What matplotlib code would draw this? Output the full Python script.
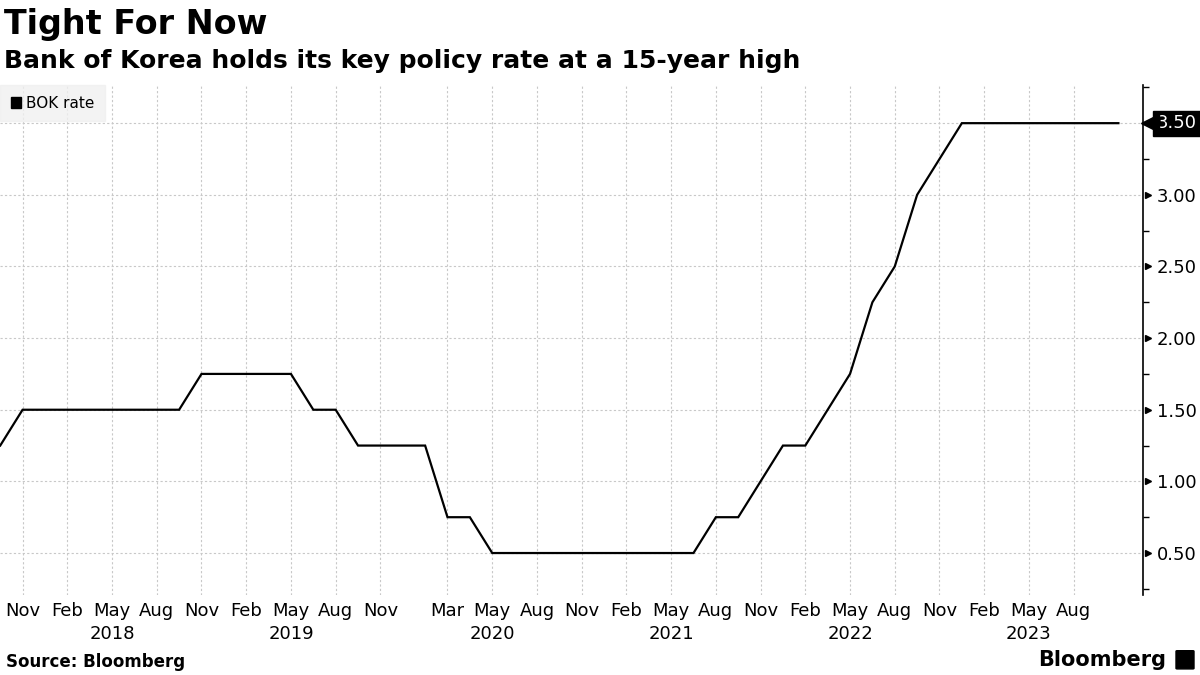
import numpy as np
import pandas as pd
import matplotlib
matplotlib.use("Agg")
import matplotlib.pyplot as plt
import matplotlib.patches as mpatches
import matplotlib.transforms as mtransforms

# BOK policy meetings and the rate decided at each one
meeting_dates = [
    "2017-10-19", "2017-11-30",
    "2018-01-18", "2018-02-27", "2018-04-12", "2018-05-24", "2018-07-12", "2018-08-31", "2018-10-18", "2018-11-30",
    "2019-01-24", "2019-02-28", "2019-04-18", "2019-05-31", "2019-07-18", "2019-08-30", "2019-10-16", "2019-11-29",
    "2020-01-17", "2020-02-27", "2020-03-16", "2020-04-09", "2020-05-28", "2020-07-16", "2020-08-27", "2020-10-15", "2020-11-26",
    "2021-01-15", "2021-02-25", "2021-04-15", "2021-05-27", "2021-07-15", "2021-08-26", "2021-10-12", "2021-11-25",
    "2022-01-14", "2022-02-24", "2022-04-14", "2022-05-26", "2022-07-13", "2022-08-25", "2022-10-12", "2022-11-24",
    "2023-01-13", "2023-02-23", "2023-04-11", "2023-05-25", "2023-07-13", "2023-08-24", "2023-10-19", "2023-11-30",
]
bok_rate = [
    1.25, 1.50,
    1.50, 1.50, 1.50, 1.50, 1.50, 1.50, 1.50, 1.75,
    1.75, 1.75, 1.75, 1.75, 1.50, 1.50, 1.25, 1.25,
    1.25, 1.25, 0.75, 0.75, 0.50, 0.50, 0.50, 0.50, 0.50,
    0.50, 0.50, 0.50, 0.50, 0.50, 0.75, 0.75, 1.00,
    1.25, 1.25, 1.50, 1.75, 2.25, 2.50, 3.00, 3.25,
    3.50, 3.50, 3.50, 3.50, 3.50, 3.50, 3.50, 3.50,
]

tick_months = ["2017-11", "2018-02", "2018-05", "2018-08", "2018-11", "2019-02", "2019-05", "2019-08", "2019-11",
               "2020-03", "2020-05", "2020-08", "2020-11", "2021-02", "2021-05", "2021-08", "2021-11",
               "2022-02", "2022-05", "2022-08", "2022-11", "2023-02", "2023-05", "2023-08"]
year_labels = ["2018", "2019", "2020", "2021", "2022", "2023"]
y_ticks = [0.5, 1.0, 1.5, 2.0, 2.5, 3.0, 3.5]

dates = pd.to_datetime(meeting_dates)
month_keys = dates.strftime("%Y-%m")
idx = np.arange(len(bok_rate))

# x axis is spaced by meeting, ticks sit on the first meeting of the month
tick_pos = [int(np.argmax(month_keys == m)) for m in tick_months]
tick_lbl = [pd.Timestamp(m + "-01").strftime("%b") for m in tick_months]
year_pos = [int(np.argmax(month_keys == y + "-05")) for y in year_labels]

plt.rcParams["font.family"] = ["DejaVu Sans"]

fig = plt.figure(figsize=(12, 6.75), dpi=100)
ax = fig.add_axes([0.0, 0.1185, 0.9525, 0.7555])

ax.plot(idx, bok_rate, color="black", linewidth=1.6, solid_joinstyle="miter", zorder=3)

ax.set_xlim(-0.01, 51.1)
ax.set_ylim(0.207, 3.766)

ax.set_xticks(tick_pos)
ax.set_xticklabels(tick_lbl, fontsize=13)
ax.set_yticks(y_ticks)
ax.set_yticklabels([f"{v:.2f}" for v in y_ticks[:-1]] + [""], fontsize=13)
ax.set_yticks(np.arange(0.25, 3.8, 0.5), minor=True)
ax.yaxis.tick_right()
ax.tick_params(axis="x", length=0, pad=5)
ax.tick_params(axis="y", which="major", length=0, pad=10)
ax.tick_params(axis="y", which="minor", length=4, width=1, color="black")

ax.grid(True, which="major", color="#c8c8c8", linestyle=(0, (2, 2)), linewidth=0.8)

for s in ["top", "left", "bottom"]:
    ax.spines[s].set_visible(False)
ax.spines["right"].set_color("black")
ax.spines["right"].set_linewidth(1.2)

# small pointers next to the labelled ticks
trans = mtransforms.blended_transform_factory(ax.transAxes, ax.transData)
ax.plot([1.004] * (len(y_ticks) - 1), y_ticks[:-1], marker=">", markersize=5, color="black",
        linestyle="none", transform=trans, clip_on=False)

# last value tag
ax.plot([1.006], [bok_rate[-1]], marker="<", markersize=13, color="black", linestyle="none",
        transform=trans, clip_on=False, zorder=4)
ax.text(1.012, bok_rate[-1], f"{bok_rate[-1]:.2f}", transform=trans, fontsize=13, color="white",
        ha="left", va="center",
        bbox=dict(boxstyle="square,pad=0.2", facecolor="black", edgecolor="black"))

# year labels under the month ticks
xtrans = mtransforms.blended_transform_factory(ax.transData, ax.transAxes)
for pos, yr in zip(year_pos, year_labels):
    ax.text(pos, -0.077, yr, transform=xtrans, fontsize=13, ha="center", va="center")

# legend
sq = mpatches.Patch(facecolor="black", edgecolor="black", label="BOK rate")
leg = ax.legend(handles=[sq], loc="upper left", bbox_to_anchor=(0.0, 1.0), borderaxespad=0,
                fontsize=11, frameon=True, fancybox=False, handlelength=0.7, handleheight=0.7,
                handletextpad=0.3, borderpad=0.7)
leg.get_frame().set_facecolor("#f0f0f0")
leg.get_frame().set_edgecolor("#f0f0f0")

fig.text(0.003, 0.964, "Tight For Now", fontsize=24, fontweight="bold", va="center", ha="left")
fig.text(0.003, 0.91, "Bank of Korea holds its key policy rate at a 15-year high", fontsize=18,
         fontweight="bold", va="center", ha="left")
fig.text(0.005, 0.019, "Source: Bloomberg", fontsize=12, fontweight="bold", va="center", ha="left")
fig.text(0.972, 0.022, "Bloomberg", fontsize=15, fontweight="bold", va="center", ha="right")
fig.patches.append(mpatches.FancyBboxPatch((0.981, 0.01), 0.013, 0.025, boxstyle="round,pad=0.001",
                                           transform=fig.transFigure, facecolor="black", edgecolor="black"))

fig.savefig("out.png", dpi=100)
